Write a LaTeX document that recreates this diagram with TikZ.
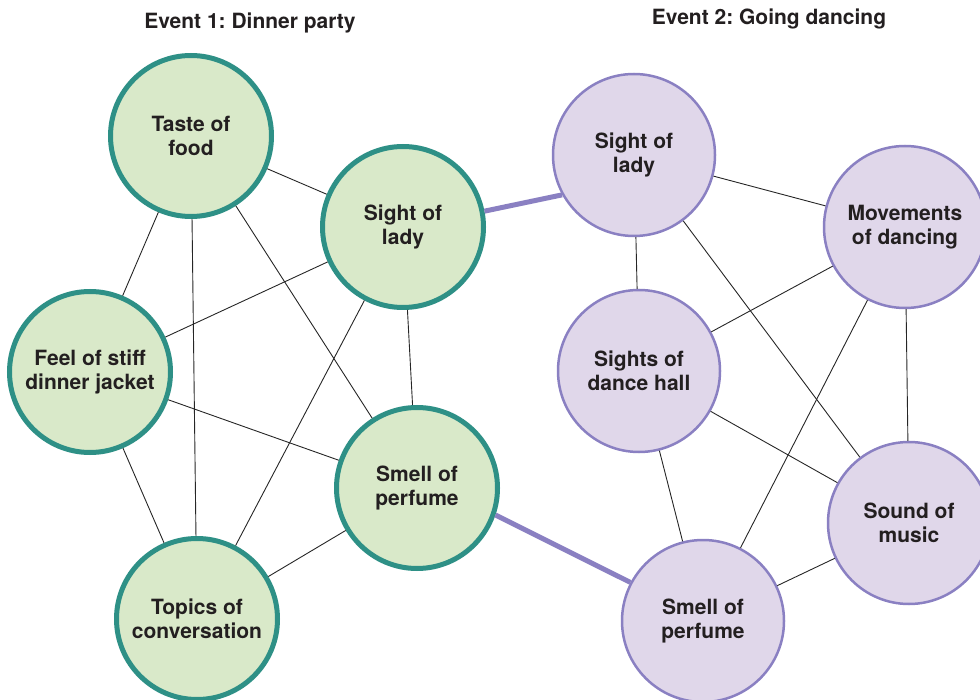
\documentclass[tikz,border=0pt]{standalone}
\usepackage{fontspec}
\setmainfont{TeX Gyre Heros}
\usepackage{tikz}
\frenchspacing

\definecolor{dinnerfill}{HTML}{D9E9C9}
\definecolor{dinnerline}{HTML}{2E9086}
\definecolor{dancefill}{HTML}{E0D7EA}
\definecolor{danceline}{HTML}{8A80C2}
\definecolor{labeltext}{HTML}{231F20}

\begin{document}
\begin{tikzpicture}[x=1pt, y=-1pt,
	every node/.style={font=\bfseries\fontsize{21}{24.5}\selectfont, text=labeltext, align=center},
	dinnerbubble/.style={circle, draw=dinnerline, fill=dinnerfill, line width=5pt, minimum size=161pt, inner sep=0pt},
	dancebubble/.style={circle, draw=danceline, fill=dancefill, line width=2.5pt, minimum size=162pt, inner sep=0pt},
	link/.style={line width=0.9pt, draw=black!85},
	bridge/.style={line width=5pt, draw=danceline}]
	\useasboundingbox (0, 0) rectangle (980, 700);

	% titles
	\node[anchor=base] (title1) at (250, 29) {Event 1: Dinner party};
	\node[anchor=base] (title2) at (769, 25) {Event 2: Going dancing};

	% event 1
	\node[dinnerbubble] (taste) at (191, 136) {Taste of\\food};
	\node[dinnerbubble] (sightA) at (403, 227) {Sight of\\lady};
	\node[dinnerbubble] (jacket) at (90, 372) {Feel of stiff\\dinner jacket};
	\node[dinnerbubble] (smellA) at (417, 488) {Smell of\\perfume};
	\node[dinnerbubble] (topics) at (197, 619) {Topics of\\conversation};

	% event 2
	\node[dancebubble] (sightB) at (634, 155) {Sight of\\lady};
	\node[dancebubble] (moves) at (905, 227) {Movements\\of dancing};
	\node[dancebubble] (hall) at (639, 371) {Sights of\\dance hall};
	\node[dancebubble] (music) at (909, 523) {Sound of\\music};
	\node[dancebubble] (smellB) at (703, 621) {Smell of\\perfume};

	\draw[link] (taste) -- (sightA);
	\draw[link] (taste) -- (jacket);
	\draw[link] (taste) -- (topics);
	\draw[link] (taste) -- (smellA);
	\draw[link] (sightA) -- (jacket);
	\draw[link] (sightA) -- (topics);
	\draw[link] (sightA) -- (smellA);
	\draw[link] (jacket) -- (smellA);
	\draw[link] (jacket) -- (topics);
	\draw[link] (smellA) -- (topics);

	\draw[link] (sightB) -- (moves);
	\draw[link] (sightB) -- (hall);
	\draw[link] (sightB) -- (music);
	\draw[link] (moves) -- (hall);
	\draw[link] (moves) -- (smellB);
	\draw[link] (moves) -- (music);
	\draw[link] (hall) -- (music);
	\draw[link] (hall) -- (smellB);
	\draw[link] (music) -- (smellB);

	\draw[bridge] (sightA.11) -- (sightB.209);
	\draw[bridge] (smellA.-19) -- (smellB.152);
\end{tikzpicture}
\end{document}
